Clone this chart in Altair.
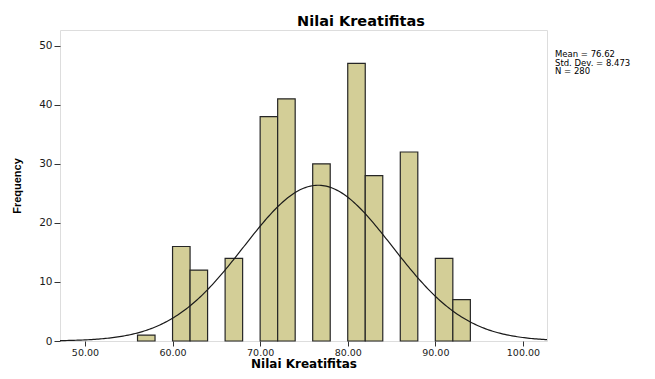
import altair as alt
import pandas as pd

# ---- data ----
bin_start = [56, 60, 62, 66, 70, 72, 76, 80, 82, 86, 90, 92]
bin_width = 2
counts = [1, 16, 12, 14, 38, 41, 30, 47, 28, 32, 14, 7]
mean_val = 76.62
std_dev = 8.473
n_obs = 280
x_ticks = [50, 60, 70, 80, 90, 100]
y_ticks = [0, 10, 20, 30, 40, 50]
x_domain = [47.15, 102.75]
y_domain = [0, 52.65]
title_text = "Nilai Kreatifitas"
x_title = "Nilai Kreatifitas"
y_title = "Frequency"

bars_df = pd.DataFrame({
    "start": bin_start,
    "end": [s + bin_width for s in bin_start],
    "count": counts,
})
stats_df = pd.DataFrame({
    "label": [f"Mean = {mean_val:.2f}\nStd. Dev. = {std_dev:.3f}\nN = {n_obs}"]
})
title_df = pd.DataFrame({"label": [title_text]})

W, H = 487, 311
PAD = {"left": 52, "top": 22, "right": 100, "bottom": 29}
xs = alt.Scale(domain=x_domain, nice=False, zero=False)
ys = alt.Scale(domain=y_domain, nice=False)

x_axis = alt.Axis(
    values=x_ticks, format=".2f", title=x_title, grid=False, domain=False,
    tickSize=5, tickColor="#333333", labelPadding=1, labelFont="DejaVu Sans",
    labelFontSize=9.5, labelColor="#1a1a1a", labelFlush=False, labelOverlap=False,
    titleFont="DejaVu Sans", titleFontSize=12, titleFontWeight="bold",
    titleColor="#000000", titleX=W / 2, titleY=26, titleBaseline="alphabetic",
)
y_axis = alt.Axis(
    values=y_ticks, title=y_title, grid=False, domain=False,
    tickSize=6, tickColor="#333333", labelPadding=2, labelFont="DejaVu Sans",
    labelFontSize=10.5, labelColor="#1a1a1a", labelFlush=False, labelOverlap=False,
    titleFont="Liberation Sans", titleFontSize=11, titleFontWeight="bold",
    titleColor="#000000", titleX=-40, titleY=H / 2, titleAngle=-90,
    titleAlign="center", titleBaseline="alphabetic",
)

bars = alt.Chart(bars_df).mark_bar(
    fill="#D3CE97", stroke="#262626", strokeWidth=1.2
).encode(
    x=alt.X("start:Q", scale=xs, axis=x_axis),
    x2="end:Q",
    y=alt.Y("count:Q", scale=ys, axis=y_axis),
    y2=alt.datum(0),
)

curve = alt.Chart(
    alt.sequence(start=x_domain[0], stop=x_domain[1] + 0.01, step=0.2, as_="x")
).transform_calculate(
    y=f"{n_obs * bin_width} * densityNormal(datum.x, {mean_val}, {std_dev})"
).mark_line(color="#1a1a1a", strokeWidth=1.2).encode(
    x=alt.X("x:Q", scale=xs, axis=x_axis),
    y=alt.Y("y:Q", scale=ys, axis=y_axis),
)

stats = alt.Chart(stats_df).mark_text(
    align="left", baseline="top", font="DejaVu Sans", fontSize=8.5,
    lineHeight=8.6, lineBreak="\n", color="#000000"
).encode(
    text="label:N",
    x=alt.value(495),
    y=alt.value(20),
)

title = alt.Chart(title_df).mark_text(
    align="center", baseline="alphabetic", font="DejaVu Sans", fontSize=14.5,
    fontWeight="bold", color="#000000"
).encode(
    text="label:N",
    x=alt.value(301),
    y=alt.value(-4),
)

chart = alt.layer(bars, curve, stats, title).properties(
    width=W,
    height=H,
    padding=PAD,
    autosize="none",
).configure_view(
    stroke="#7a7a7a", strokeWidth=1.5, fill="#F0F0F0"
).configure(background="#ffffff")

chart.save("out.html", embed_options={"renderer": "svg", "actions": False})
